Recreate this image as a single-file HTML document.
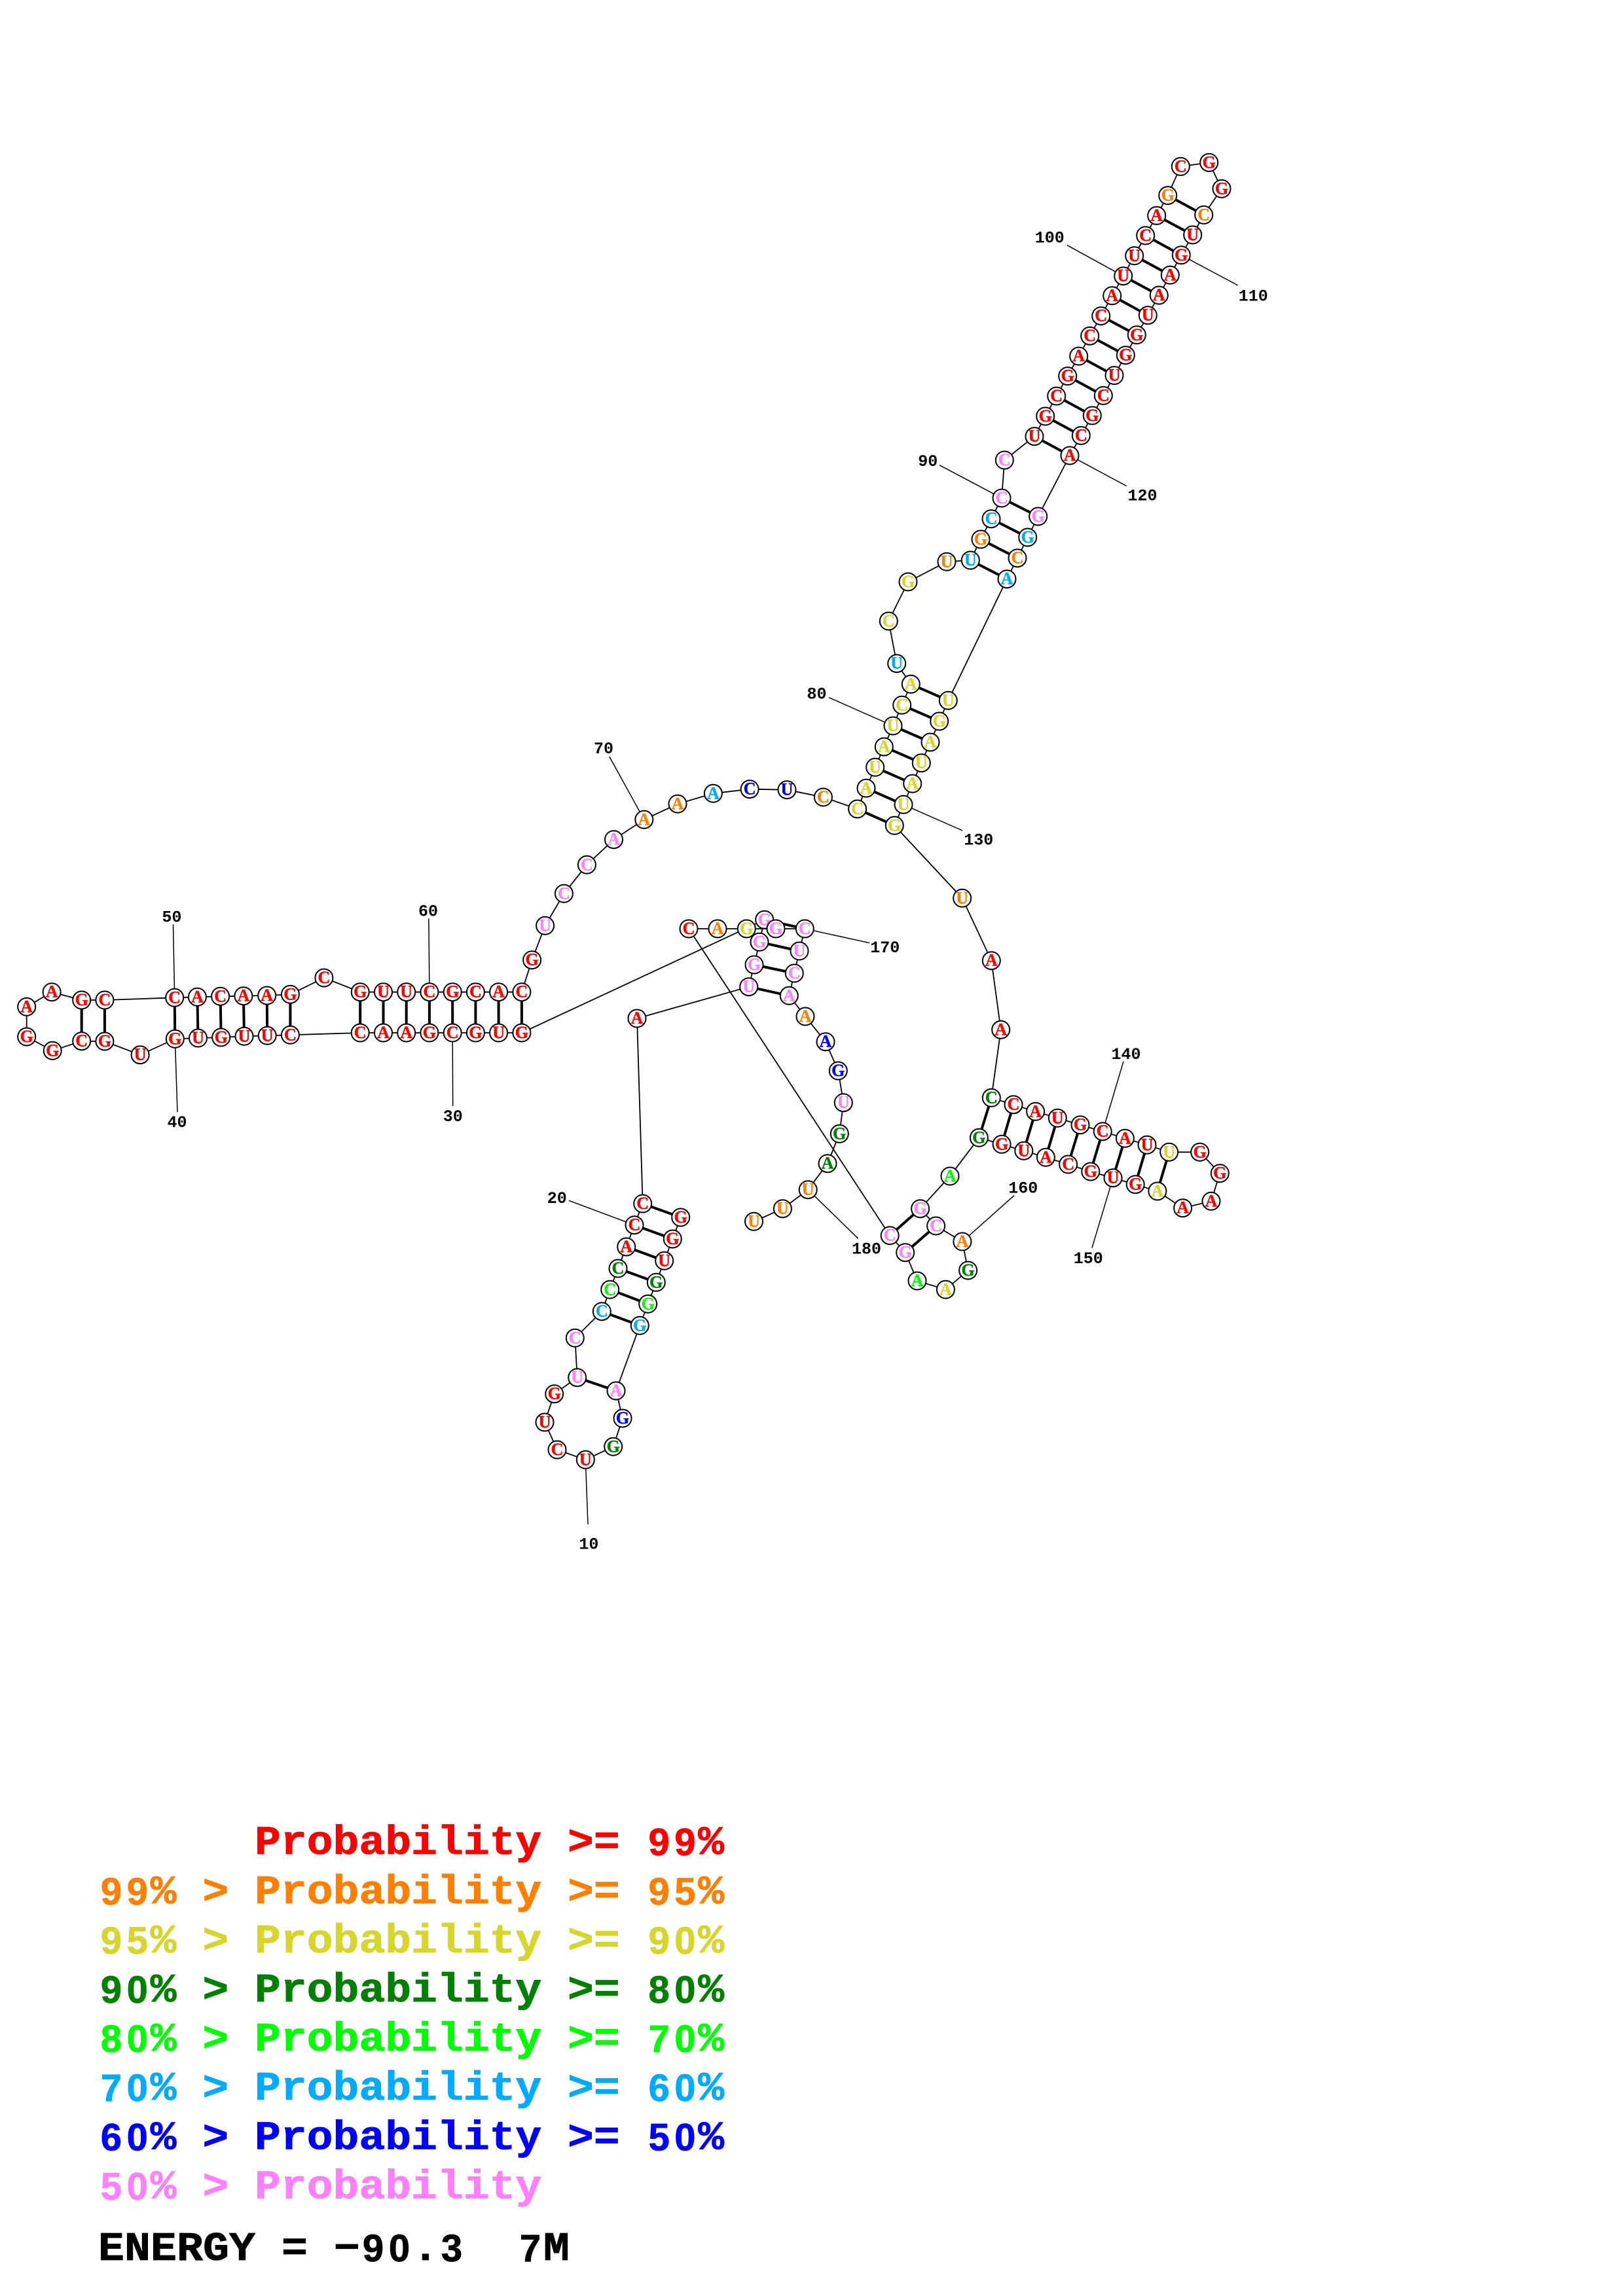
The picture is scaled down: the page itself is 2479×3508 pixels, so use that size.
<!DOCTYPE html>
<html><head><meta charset="utf-8"><title>RNA structure</title>
<style>
html,body{margin:0;padding:0;background:#fff;width:2479px;height:3508px;overflow:hidden}
svg{display:block}
circle{fill:#fff;stroke:#000;stroke-width:2}
.n text{font-family:"Liberation Serif",serif;font-weight:bold;font-size:26px;text-anchor:middle;stroke-width:.5}
.r{fill:#f00;stroke:#f00}.o{fill:#ff8000;stroke:#ff8000}.y{fill:#d5d52b;stroke:#d5d52b}.d{fill:#008000;stroke:#008000}.g{fill:#0f0;stroke:#0f0}.c{fill:#00aaff;stroke:#00aaff}.b{fill:#00f;stroke:#00f}.p{fill:#ff80ff;stroke:#ff80ff}.k{fill:#000;stroke:#000}
.l text{font-family:"Liberation Mono",monospace;font-weight:bold;font-size:25px;text-anchor:middle;fill:#000}
.m{font-family:"Liberation Mono",monospace;font-weight:bold;font-size:62px;white-space:pre;stroke-width:.8}
.s{font-family:"Liberation Sans",sans-serif;font-weight:bold;font-size:58px;text-anchor:middle;stroke-width:.8}
</style></head><body>
<svg xmlns="http://www.w3.org/2000/svg" width="2479" height="3508" viewBox="0 0 2479 3508">
<rect width="2479" height="3508" fill="#fff"/>
<g fill="none" stroke="#000">
<path stroke-width="1.5" d="M894.3 2230.3L898 2329M969 1871.7L869 1834.3M691.2 1578L691.7 1690M267.3 1587.3L271 1699M266.7 1524.3L264.5 1412.3M655.9 1515.7L654.9 1403.3M983.8 1252.3L930.8 1156M1364 1109L1266 1065.7M1530 761L1435 710.7M1715.7 421.7L1630 374.7M1804.3 389.8L1890.7 436M1634 696L1720.7 742.6M1380 1229.3L1470 1269M1684.2 1728.7L1716 1621.7M1700 1799.7L1667.9 1906.7M1469.9 1897L1549 1826.7M1229.3 1419L1328.3 1440.7M1234.2 1817.7L1310.7 1892.3"/>
<polyline stroke-width="1.8" points="1039.7,1860 1027.3,1893 1014.7,1926.3 1002.3,1959.3 989.7,1992.3 977.3,2025.3 941,2125 951,2167 936.7,2210.3 894.3,2230.3 851,2215 832,2173 846.7,2129.7 881.7,2104.7 878.3,2044.3 919.3,2003.7 931.7,1970.3 944,1938 956.7,1905 969,1871.7 981.7,1839 973,1556 1143.7,1507.7 1152,1474 1160,1439.3 1167.7,1405.3 796.9,1578 761.6,1578 726.4,1578 691.2,1578 655.9,1578 620.7,1578 585.5,1578 550.2,1578 443.4,1581.3 408.2,1582.3 373,1583.3 337.7,1585 302.5,1586 267.3,1587.3 214.1,1611.7 159.9,1591 124.7,1590.7 80.2,1605.3 40.7,1584 40.7,1538.3 79.1,1515.7 124.7,1528 159.9,1528 266.7,1524.3 301.4,1523.3 336.6,1522.3 371.9,1521.7 407.7,1521 443.4,1519.3 494.9,1494 550.2,1515.7 585.5,1515.7 620.7,1515.7 655.9,1515.7 691.2,1515.7 726.4,1515.7 761.6,1515.7 796.9,1515.7 812.6,1466.7 832.6,1414.3 861.4,1365.3 896.4,1321.3 937.5,1282.7 983.8,1252.3 1035,1228.3 1089.4,1212.3 1145.1,1205.7 1202,1206.7 1257.4,1218 1309.6,1236 1323,1204.3 1336.7,1172.3 1350.3,1141 1364,1109 1377.7,1077.3 1391.3,1045.3 1369.7,1013.7 1357.3,949 1387,889 1446,858.3 1482.3,856 1498,824 1514,792.7 1530,761 1534.3,703 1580,666.7 1596.7,636 1613.7,605.1 1630.7,574.6 1647.7,544.1 1664.7,513.2 1681.7,482.7 1698.7,451.8 1715.7,421.7 1732.7,390.8 1749.7,359.9 1766.7,329.4 1783.7,298.6 1803.3,254.4 1846.7,248.4 1866,288.4 1838.7,328.4 1821.7,358.9 1804.3,389.8 1787.3,420.3 1770.3,451.1 1753.3,481.7 1736.3,511.8 1719.3,542.7 1702,573.6 1685.3,604.4 1668.3,634.9 1651.3,665.5 1634,696 1585.7,789 1569.7,821 1554,852.7 1538,884.7 1448.3,1070.3 1434.7,1102 1421,1134 1407.3,1165.7 1393.7,1197.3 1380,1229.3 1366.3,1261.3 1469.7,1372.3 1514.3,1467.7 1528.7,1573.3 1514.3,1677.3 1548,1687.7 1581.6,1698.3 1615.3,1708.3 1650,1718.7 1684.2,1728.7 1718.4,1739.3 1752,1749.3 1785.7,1760.3 1832.7,1760.3 1863.3,1792.7 1850,1835.3 1806.6,1845.7 1767.9,1820 1734.2,1809.7 1700,1799.7 1665.8,1790 1631.6,1779 1597.4,1768.3 1563.8,1758.3 1530.1,1748.3 1495.4,1738.3 1451,1797 1405.6,1846.7 1429.6,1873 1469.9,1897 1478.6,1941 1444.4,1970.3 1401,1957 1382.7,1913.7 1359.2,1887.7 1052,1419 1096,1419 1140.3,1419 1185,1419 1229.3,1419 1221,1453 1213.3,1487 1205.3,1521.3 1230,1553 1261,1591.7 1280.3,1636 1288.3,1684.7 1282.3,1732.3 1264,1777.7 1234.2,1817.7 1195.4,1846.7 1151.5,1866.3"/>
<path stroke-width="4" d="M1039.7 1860L981.7 1839M1027.3 1893L969 1871.7M1014.7 1926.3L956.7 1905M1002.3 1959.3L944 1938M989.7 1992.3L931.7 1970.3M977.3 2025.3L919.3 2003.7M941 2125L881.7 2104.7M1167.7 1405.3L1229.3 1419M1160 1439.3L1221 1453M1152 1474L1213.3 1487M1143.7 1507.7L1205.3 1521.3M796.9 1578V1515.7M761.6 1578V1515.7M726.4 1578V1515.7M691.2 1578V1515.7M655.9 1578V1515.7M620.7 1578V1515.7M585.5 1578V1515.7M550.2 1578V1515.7M443.4 1581.3V1519.3M408.2 1582.3L407.7 1521M373 1583.3L371.9 1521.7M337.7 1585L336.6 1522.3M302.5 1586L301.4 1523.3M267.3 1587.3L266.7 1524.3M159.9 1591V1528M124.7 1590.7V1528M1309.6 1236L1366.3 1261.3M1323 1204.3L1380 1229.3M1336.7 1172.3L1393.7 1197.3M1350.3 1141L1407.3 1165.7M1364 1109L1421 1134M1377.7 1077.3L1434.7 1102M1391.3 1045.3L1448.3 1070.3M1482.3 856L1538 884.7M1498 824L1554 852.7M1514 792.7L1569.7 821M1530 761L1585.7 789M1580 666.7L1634 696M1596.7 636L1651.3 665.5M1613.7 605.1L1668.3 634.9M1630.7 574.6L1685.3 604.4M1647.7 544.1L1702 573.6M1664.7 513.2L1719.3 542.7M1681.7 482.7L1736.3 511.8M1698.7 451.8L1753.3 481.7M1715.7 421.7L1770.3 451.1M1732.7 390.8L1787.3 420.3M1749.7 359.9L1804.3 389.8M1766.7 329.4L1821.7 358.9M1783.7 298.6L1838.7 328.4M1514.3 1677.3L1495.4 1738.3M1548 1687.7L1530.1 1748.3M1581.6 1698.3L1563.8 1758.3M1615.3 1708.3L1597.4 1768.3M1650 1718.7L1631.6 1779M1684.2 1728.7L1665.8 1790M1718.4 1739.3L1700 1799.7M1752 1749.3L1734.2 1809.7M1785.7 1760.3L1767.9 1820M1405.6 1846.7L1359.2 1887.7M1429.6 1873L1382.7 1913.7"/>
</g>
<g class="n">
<circle cx="1039.7" cy="1860" r="13.5"/><text x="1039.7" y="1868" class="r">G</text>
<circle cx="1027.3" cy="1893" r="13.5"/><text x="1027.3" y="1901" class="r">G</text>
<circle cx="1014.7" cy="1926.3" r="13.5"/><text x="1014.7" y="1934.3" class="r">U</text>
<circle cx="1002.3" cy="1959.3" r="13.5"/><text x="1002.3" y="1967.3" class="d">G</text>
<circle cx="989.7" cy="1992.3" r="13.5"/><text x="989.7" y="2000.3" class="g">G</text>
<circle cx="977.3" cy="2025.3" r="13.5"/><text x="977.3" y="2033.3" class="c">G</text>
<circle cx="941" cy="2125" r="13.5"/><text x="941" y="2133" class="p">A</text>
<circle cx="951" cy="2167" r="13.5"/><text x="951" y="2175" class="b">G</text>
<circle cx="936.7" cy="2210.3" r="13.5"/><text x="936.7" y="2218.3" class="d">G</text>
<circle cx="894.3" cy="2230.3" r="13.5"/><text x="894.3" y="2238.3" class="r">U</text>
<circle cx="851" cy="2215" r="13.5"/><text x="851" y="2223" class="r">C</text>
<circle cx="832" cy="2173" r="13.5"/><text x="832" y="2181" class="r">U</text>
<circle cx="846.7" cy="2129.7" r="13.5"/><text x="846.7" y="2137.7" class="r">G</text>
<circle cx="881.7" cy="2104.7" r="13.5"/><text x="881.7" y="2112.7" class="p">U</text>
<circle cx="878.3" cy="2044.3" r="13.5"/><text x="878.3" y="2052.3" class="p">C</text>
<circle cx="919.3" cy="2003.7" r="13.5"/><text x="919.3" y="2011.7" class="c">C</text>
<circle cx="931.7" cy="1970.3" r="13.5"/><text x="931.7" y="1978.3" class="g">C</text>
<circle cx="944" cy="1938" r="13.5"/><text x="944" y="1946" class="d">C</text>
<circle cx="956.7" cy="1905" r="13.5"/><text x="956.7" y="1913" class="r">A</text>
<circle cx="969" cy="1871.7" r="13.5"/><text x="969" y="1879.7" class="r">C</text>
<circle cx="981.7" cy="1839" r="13.5"/><text x="981.7" y="1847" class="r">C</text>
<circle cx="973" cy="1556" r="13.5"/><text x="973" y="1564" class="r">A</text>
<circle cx="1143.7" cy="1507.7" r="13.5"/><text x="1143.7" y="1515.7" class="p">U</text>
<circle cx="1152" cy="1474" r="13.5"/><text x="1152" y="1482" class="p">G</text>
<circle cx="1160" cy="1439.3" r="13.5"/><text x="1160" y="1447.3" class="p">G</text>
<circle cx="1167.7" cy="1405.3" r="13.5"/><text x="1167.7" y="1413.3" class="p">G</text>
<circle cx="796.9" cy="1578" r="13.5"/><text x="796.9" y="1586" class="r">G</text>
<circle cx="761.6" cy="1578" r="13.5"/><text x="761.6" y="1586" class="r">U</text>
<circle cx="726.4" cy="1578" r="13.5"/><text x="726.4" y="1586" class="r">G</text>
<circle cx="691.2" cy="1578" r="13.5"/><text x="691.2" y="1586" class="r">C</text>
<circle cx="655.9" cy="1578" r="13.5"/><text x="655.9" y="1586" class="r">G</text>
<circle cx="620.7" cy="1578" r="13.5"/><text x="620.7" y="1586" class="r">A</text>
<circle cx="585.5" cy="1578" r="13.5"/><text x="585.5" y="1586" class="r">A</text>
<circle cx="550.2" cy="1578" r="13.5"/><text x="550.2" y="1586" class="r">C</text>
<circle cx="443.4" cy="1581.3" r="13.5"/><text x="443.4" y="1589.3" class="r">C</text>
<circle cx="408.2" cy="1582.3" r="13.5"/><text x="408.2" y="1590.3" class="r">U</text>
<circle cx="373" cy="1583.3" r="13.5"/><text x="373" y="1591.3" class="r">U</text>
<circle cx="337.7" cy="1585" r="13.5"/><text x="337.7" y="1593" class="r">G</text>
<circle cx="302.5" cy="1586" r="13.5"/><text x="302.5" y="1594" class="r">U</text>
<circle cx="267.3" cy="1587.3" r="13.5"/><text x="267.3" y="1595.3" class="r">G</text>
<circle cx="214.1" cy="1611.7" r="13.5"/><text x="214.1" y="1619.7" class="r">U</text>
<circle cx="159.9" cy="1591" r="13.5"/><text x="159.9" y="1599" class="r">G</text>
<circle cx="124.7" cy="1590.7" r="13.5"/><text x="124.7" y="1598.7" class="r">C</text>
<circle cx="80.2" cy="1605.3" r="13.5"/><text x="80.2" y="1613.3" class="r">G</text>
<circle cx="40.7" cy="1584" r="13.5"/><text x="40.7" y="1592" class="r">G</text>
<circle cx="40.7" cy="1538.3" r="13.5"/><text x="40.7" y="1546.3" class="r">A</text>
<circle cx="79.1" cy="1515.7" r="13.5"/><text x="79.1" y="1523.7" class="r">A</text>
<circle cx="124.7" cy="1528" r="13.5"/><text x="124.7" y="1536" class="r">G</text>
<circle cx="159.9" cy="1528" r="13.5"/><text x="159.9" y="1536" class="r">C</text>
<circle cx="266.7" cy="1524.3" r="13.5"/><text x="266.7" y="1532.3" class="r">C</text>
<circle cx="301.4" cy="1523.3" r="13.5"/><text x="301.4" y="1531.3" class="r">A</text>
<circle cx="336.6" cy="1522.3" r="13.5"/><text x="336.6" y="1530.3" class="r">C</text>
<circle cx="371.9" cy="1521.7" r="13.5"/><text x="371.9" y="1529.7" class="r">A</text>
<circle cx="407.7" cy="1521" r="13.5"/><text x="407.7" y="1529" class="r">A</text>
<circle cx="443.4" cy="1519.3" r="13.5"/><text x="443.4" y="1527.3" class="r">G</text>
<circle cx="494.9" cy="1494" r="13.5"/><text x="494.9" y="1502" class="r">C</text>
<circle cx="550.2" cy="1515.7" r="13.5"/><text x="550.2" y="1523.7" class="r">G</text>
<circle cx="585.5" cy="1515.7" r="13.5"/><text x="585.5" y="1523.7" class="r">U</text>
<circle cx="620.7" cy="1515.7" r="13.5"/><text x="620.7" y="1523.7" class="r">U</text>
<circle cx="655.9" cy="1515.7" r="13.5"/><text x="655.9" y="1523.7" class="r">C</text>
<circle cx="691.2" cy="1515.7" r="13.5"/><text x="691.2" y="1523.7" class="r">G</text>
<circle cx="726.4" cy="1515.7" r="13.5"/><text x="726.4" y="1523.7" class="r">C</text>
<circle cx="761.6" cy="1515.7" r="13.5"/><text x="761.6" y="1523.7" class="r">A</text>
<circle cx="796.9" cy="1515.7" r="13.5"/><text x="796.9" y="1523.7" class="r">C</text>
<circle cx="812.6" cy="1466.7" r="13.5"/><text x="812.6" y="1474.7" class="r">G</text>
<circle cx="832.6" cy="1414.3" r="13.5"/><text x="832.6" y="1422.3" class="p">U</text>
<circle cx="861.4" cy="1365.3" r="13.5"/><text x="861.4" y="1373.3" class="p">C</text>
<circle cx="896.4" cy="1321.3" r="13.5"/><text x="896.4" y="1329.3" class="p">C</text>
<circle cx="937.5" cy="1282.7" r="13.5"/><text x="937.5" y="1290.7" class="p">A</text>
<circle cx="983.8" cy="1252.3" r="13.5"/><text x="983.8" y="1260.3" class="o">A</text>
<circle cx="1035" cy="1228.3" r="13.5"/><text x="1035" y="1236.3" class="o">A</text>
<circle cx="1089.4" cy="1212.3" r="13.5"/><text x="1089.4" y="1220.3" class="c">A</text>
<circle cx="1145.1" cy="1205.7" r="13.5"/><text x="1145.1" y="1213.7" class="b">C</text>
<circle cx="1202" cy="1206.7" r="13.5"/><text x="1202" y="1214.7" class="b">U</text>
<circle cx="1257.4" cy="1218" r="13.5"/><text x="1257.4" y="1226" class="o">C</text>
<circle cx="1309.6" cy="1236" r="13.5"/><text x="1309.6" y="1244" class="y">C</text>
<circle cx="1323" cy="1204.3" r="13.5"/><text x="1323" y="1212.3" class="y">A</text>
<circle cx="1336.7" cy="1172.3" r="13.5"/><text x="1336.7" y="1180.3" class="y">U</text>
<circle cx="1350.3" cy="1141" r="13.5"/><text x="1350.3" y="1149" class="y">A</text>
<circle cx="1364" cy="1109" r="13.5"/><text x="1364" y="1117" class="y">U</text>
<circle cx="1377.7" cy="1077.3" r="13.5"/><text x="1377.7" y="1085.3" class="y">C</text>
<circle cx="1391.3" cy="1045.3" r="13.5"/><text x="1391.3" y="1053.3" class="y">A</text>
<circle cx="1369.7" cy="1013.7" r="13.5"/><text x="1369.7" y="1021.7" class="c">U</text>
<circle cx="1357.3" cy="949" r="13.5"/><text x="1357.3" y="957" class="y">C</text>
<circle cx="1387" cy="889" r="13.5"/><text x="1387" y="897" class="y">G</text>
<circle cx="1446" cy="858.3" r="13.5"/><text x="1446" y="866.3" class="o">U</text>
<circle cx="1482.3" cy="856" r="13.5"/><text x="1482.3" y="864" class="c">U</text>
<circle cx="1498" cy="824" r="13.5"/><text x="1498" y="832" class="o">G</text>
<circle cx="1514" cy="792.7" r="13.5"/><text x="1514" y="800.7" class="c">C</text>
<circle cx="1530" cy="761" r="13.5"/><text x="1530" y="769" class="p">C</text>
<circle cx="1534.3" cy="703" r="13.5"/><text x="1534.3" y="711" class="p">C</text>
<circle cx="1580" cy="666.7" r="13.5"/><text x="1580" y="674.7" class="r">U</text>
<circle cx="1596.7" cy="636" r="13.5"/><text x="1596.7" y="644" class="r">G</text>
<circle cx="1613.7" cy="605.1" r="13.5"/><text x="1613.7" y="613.1" class="r">C</text>
<circle cx="1630.7" cy="574.6" r="13.5"/><text x="1630.7" y="582.6" class="r">G</text>
<circle cx="1647.7" cy="544.1" r="13.5"/><text x="1647.7" y="552.1" class="r">A</text>
<circle cx="1664.7" cy="513.2" r="13.5"/><text x="1664.7" y="521.2" class="r">C</text>
<circle cx="1681.7" cy="482.7" r="13.5"/><text x="1681.7" y="490.7" class="r">C</text>
<circle cx="1698.7" cy="451.8" r="13.5"/><text x="1698.7" y="459.8" class="r">A</text>
<circle cx="1715.7" cy="421.7" r="13.5"/><text x="1715.7" y="429.7" class="r">U</text>
<circle cx="1732.7" cy="390.8" r="13.5"/><text x="1732.7" y="398.8" class="r">U</text>
<circle cx="1749.7" cy="359.9" r="13.5"/><text x="1749.7" y="367.9" class="r">C</text>
<circle cx="1766.7" cy="329.4" r="13.5"/><text x="1766.7" y="337.4" class="r">A</text>
<circle cx="1783.7" cy="298.6" r="13.5"/><text x="1783.7" y="306.6" class="o">G</text>
<circle cx="1803.3" cy="254.4" r="13.5"/><text x="1803.3" y="262.4" class="r">C</text>
<circle cx="1846.7" cy="248.4" r="13.5"/><text x="1846.7" y="256.4" class="r">G</text>
<circle cx="1866" cy="288.4" r="13.5"/><text x="1866" y="296.4" class="r">G</text>
<circle cx="1838.7" cy="328.4" r="13.5"/><text x="1838.7" y="336.4" class="o">C</text>
<circle cx="1821.7" cy="358.9" r="13.5"/><text x="1821.7" y="366.9" class="r">U</text>
<circle cx="1804.3" cy="389.8" r="13.5"/><text x="1804.3" y="397.8" class="r">G</text>
<circle cx="1787.3" cy="420.3" r="13.5"/><text x="1787.3" y="428.3" class="r">A</text>
<circle cx="1770.3" cy="451.1" r="13.5"/><text x="1770.3" y="459.1" class="r">A</text>
<circle cx="1753.3" cy="481.7" r="13.5"/><text x="1753.3" y="489.7" class="r">U</text>
<circle cx="1736.3" cy="511.8" r="13.5"/><text x="1736.3" y="519.8" class="r">G</text>
<circle cx="1719.3" cy="542.7" r="13.5"/><text x="1719.3" y="550.7" class="r">G</text>
<circle cx="1702" cy="573.6" r="13.5"/><text x="1702" y="581.6" class="r">U</text>
<circle cx="1685.3" cy="604.4" r="13.5"/><text x="1685.3" y="612.4" class="r">C</text>
<circle cx="1668.3" cy="634.9" r="13.5"/><text x="1668.3" y="642.9" class="r">G</text>
<circle cx="1651.3" cy="665.5" r="13.5"/><text x="1651.3" y="673.5" class="r">C</text>
<circle cx="1634" cy="696" r="13.5"/><text x="1634" y="704" class="r">A</text>
<circle cx="1585.7" cy="789" r="13.5"/><text x="1585.7" y="797" class="p">G</text>
<circle cx="1569.7" cy="821" r="13.5"/><text x="1569.7" y="829" class="c">G</text>
<circle cx="1554" cy="852.7" r="13.5"/><text x="1554" y="860.7" class="o">C</text>
<circle cx="1538" cy="884.7" r="13.5"/><text x="1538" y="892.7" class="c">A</text>
<circle cx="1448.3" cy="1070.3" r="13.5"/><text x="1448.3" y="1078.3" class="y">U</text>
<circle cx="1434.7" cy="1102" r="13.5"/><text x="1434.7" y="1110" class="y">G</text>
<circle cx="1421" cy="1134" r="13.5"/><text x="1421" y="1142" class="y">A</text>
<circle cx="1407.3" cy="1165.7" r="13.5"/><text x="1407.3" y="1173.7" class="y">U</text>
<circle cx="1393.7" cy="1197.3" r="13.5"/><text x="1393.7" y="1205.3" class="y">A</text>
<circle cx="1380" cy="1229.3" r="13.5"/><text x="1380" y="1237.3" class="y">U</text>
<circle cx="1366.3" cy="1261.3" r="13.5"/><text x="1366.3" y="1269.3" class="y">G</text>
<circle cx="1469.7" cy="1372.3" r="13.5"/><text x="1469.7" y="1380.3" class="o">U</text>
<circle cx="1514.3" cy="1467.7" r="13.5"/><text x="1514.3" y="1475.7" class="r">A</text>
<circle cx="1528.7" cy="1573.3" r="13.5"/><text x="1528.7" y="1581.3" class="r">A</text>
<circle cx="1514.3" cy="1677.3" r="13.5"/><text x="1514.3" y="1685.3" class="d">C</text>
<circle cx="1548" cy="1687.7" r="13.5"/><text x="1548" y="1695.7" class="r">C</text>
<circle cx="1581.6" cy="1698.3" r="13.5"/><text x="1581.6" y="1706.3" class="r">A</text>
<circle cx="1615.3" cy="1708.3" r="13.5"/><text x="1615.3" y="1716.3" class="r">U</text>
<circle cx="1650" cy="1718.7" r="13.5"/><text x="1650" y="1726.7" class="r">G</text>
<circle cx="1684.2" cy="1728.7" r="13.5"/><text x="1684.2" y="1736.7" class="r">C</text>
<circle cx="1718.4" cy="1739.3" r="13.5"/><text x="1718.4" y="1747.3" class="r">A</text>
<circle cx="1752" cy="1749.3" r="13.5"/><text x="1752" y="1757.3" class="r">U</text>
<circle cx="1785.7" cy="1760.3" r="13.5"/><text x="1785.7" y="1768.3" class="y">U</text>
<circle cx="1832.7" cy="1760.3" r="13.5"/><text x="1832.7" y="1768.3" class="r">G</text>
<circle cx="1863.3" cy="1792.7" r="13.5"/><text x="1863.3" y="1800.7" class="r">G</text>
<circle cx="1850" cy="1835.3" r="13.5"/><text x="1850" y="1843.3" class="r">A</text>
<circle cx="1806.6" cy="1845.7" r="13.5"/><text x="1806.6" y="1853.7" class="r">A</text>
<circle cx="1767.9" cy="1820" r="13.5"/><text x="1767.9" y="1828" class="y">A</text>
<circle cx="1734.2" cy="1809.7" r="13.5"/><text x="1734.2" y="1817.7" class="r">G</text>
<circle cx="1700" cy="1799.7" r="13.5"/><text x="1700" y="1807.7" class="r">U</text>
<circle cx="1665.8" cy="1790" r="13.5"/><text x="1665.8" y="1798" class="r">G</text>
<circle cx="1631.6" cy="1779" r="13.5"/><text x="1631.6" y="1787" class="r">C</text>
<circle cx="1597.4" cy="1768.3" r="13.5"/><text x="1597.4" y="1776.3" class="r">A</text>
<circle cx="1563.8" cy="1758.3" r="13.5"/><text x="1563.8" y="1766.3" class="r">U</text>
<circle cx="1530.1" cy="1748.3" r="13.5"/><text x="1530.1" y="1756.3" class="r">G</text>
<circle cx="1495.4" cy="1738.3" r="13.5"/><text x="1495.4" y="1746.3" class="d">G</text>
<circle cx="1451" cy="1797" r="13.5"/><text x="1451" y="1805" class="g">A</text>
<circle cx="1405.6" cy="1846.7" r="13.5"/><text x="1405.6" y="1854.7" class="p">G</text>
<circle cx="1429.6" cy="1873" r="13.5"/><text x="1429.6" y="1881" class="p">C</text>
<circle cx="1469.9" cy="1897" r="13.5"/><text x="1469.9" y="1905" class="o">A</text>
<circle cx="1478.6" cy="1941" r="13.5"/><text x="1478.6" y="1949" class="d">G</text>
<circle cx="1444.4" cy="1970.3" r="13.5"/><text x="1444.4" y="1978.3" class="y">A</text>
<circle cx="1401" cy="1957" r="13.5"/><text x="1401" y="1965" class="g">A</text>
<circle cx="1382.7" cy="1913.7" r="13.5"/><text x="1382.7" y="1921.7" class="p">G</text>
<circle cx="1359.2" cy="1887.7" r="13.5"/><text x="1359.2" y="1895.7" class="p">C</text>
<circle cx="1052" cy="1419" r="13.5"/><text x="1052" y="1427" class="r">C</text>
<circle cx="1096" cy="1419" r="13.5"/><text x="1096" y="1427" class="o">A</text>
<circle cx="1140.3" cy="1419" r="13.5"/><text x="1140.3" y="1427" class="y">G</text>
<circle cx="1185" cy="1419" r="13.5"/><text x="1185" y="1427" class="p">G</text>
<circle cx="1229.3" cy="1419" r="13.5"/><text x="1229.3" y="1427" class="p">C</text>
<circle cx="1221" cy="1453" r="13.5"/><text x="1221" y="1461" class="p">U</text>
<circle cx="1213.3" cy="1487" r="13.5"/><text x="1213.3" y="1495" class="p">C</text>
<circle cx="1205.3" cy="1521.3" r="13.5"/><text x="1205.3" y="1529.3" class="p">A</text>
<circle cx="1230" cy="1553" r="13.5"/><text x="1230" y="1561" class="o">A</text>
<circle cx="1261" cy="1591.7" r="13.5"/><text x="1261" y="1599.7" class="b">A</text>
<circle cx="1280.3" cy="1636" r="13.5"/><text x="1280.3" y="1644" class="b">G</text>
<circle cx="1288.3" cy="1684.7" r="13.5"/><text x="1288.3" y="1692.7" class="p">U</text>
<circle cx="1282.3" cy="1732.3" r="13.5"/><text x="1282.3" y="1740.3" class="d">G</text>
<circle cx="1264" cy="1777.7" r="13.5"/><text x="1264" y="1785.7" class="d">A</text>
<circle cx="1234.2" cy="1817.7" r="13.5"/><text x="1234.2" y="1825.7" class="o">U</text>
<circle cx="1195.4" cy="1846.7" r="13.5"/><text x="1195.4" y="1854.7" class="o">U</text>
<circle cx="1151.5" cy="1866.3" r="13.5"/><text x="1151.5" y="1874.3" class="o">U</text>
</g>
<g class="l">
<text x="899.4" y="2366.5">10</text><text x="850.7" y="1837.8">20</text><text x="691.7" y="1713.2">30</text><text x="270.5" y="1721.8">40</text><text x="262.4" y="1408.5">50</text><text x="654" y="1399.5">60</text><text x="922" y="1151.2">70</text><text x="1247.5" y="1067.5">80</text><text x="1417.3" y="711.8">90</text><text x="1603.3" y="370.5">100</text><text x="1914.3" y="459.5">110</text><text x="1745" y="764.5">120</text><text x="1494.7" y="1290.5">130</text><text x="1720" y="1617.8">140</text><text x="1662.2" y="1930.2">150</text><text x="1562.8" y="1822.5">160</text><text x="1351.7" y="1455.2">170</text><text x="1323.5" y="1915.5">180</text>
</g>
<g class="r"><g transform="translate(150,2832.7) scale(1.071,1)"><text class="m">      Probability &gt;=   %</text></g><text class="s" x="1006.6 1046.4" y="2834.7">99</text></g>
<g class="o"><g transform="translate(150,2907.8) scale(1.071,1)"><text class="m">  % &gt; Probability &gt;=   %</text></g><text class="s" x="169.9 209.8 1006.6 1046.4" y="2909.8">9995</text></g>
<g class="y"><g transform="translate(150,2982.9) scale(1.071,1)"><text class="m">  % &gt; Probability &gt;=   %</text></g><text class="s" x="169.9 209.8 1006.6 1046.4" y="2984.9">9590</text></g>
<g class="d"><g transform="translate(150,3058) scale(1.071,1)"><text class="m">  % &gt; Probability &gt;=   %</text></g><text class="s" x="169.9 209.8 1006.6 1046.4" y="3060">9080</text></g>
<g class="g"><g transform="translate(150,3133.1) scale(1.071,1)"><text class="m">  % &gt; Probability &gt;=   %</text></g><text class="s" x="169.9 209.8 1006.6 1046.4" y="3135.1">8070</text></g>
<g class="c"><g transform="translate(150,3208.2) scale(1.071,1)"><text class="m">  % &gt; Probability &gt;=   %</text></g><text class="s" x="169.9 209.8 1006.6 1046.4" y="3210.2">7060</text></g>
<g class="b"><g transform="translate(150,3283.3) scale(1.071,1)"><text class="m">  % &gt; Probability &gt;=   %</text></g><text class="s" x="169.9 209.8 1006.6 1046.4" y="3285.3">6050</text></g>
<g class="p"><g transform="translate(150,3358.4) scale(1.071,1)"><text class="m">  % &gt; Probability</text></g><text class="s" x="169.9 209.8" y="3360.4">50</text></g>
<g class="k"><g transform="translate(150,3453) scale(1.075,1)"><text class="m">ENERGY = −  .    M</text></g><text class="s" x="570 610 690 810" y="3455">9037</text></g>
</svg>
</body></html>
